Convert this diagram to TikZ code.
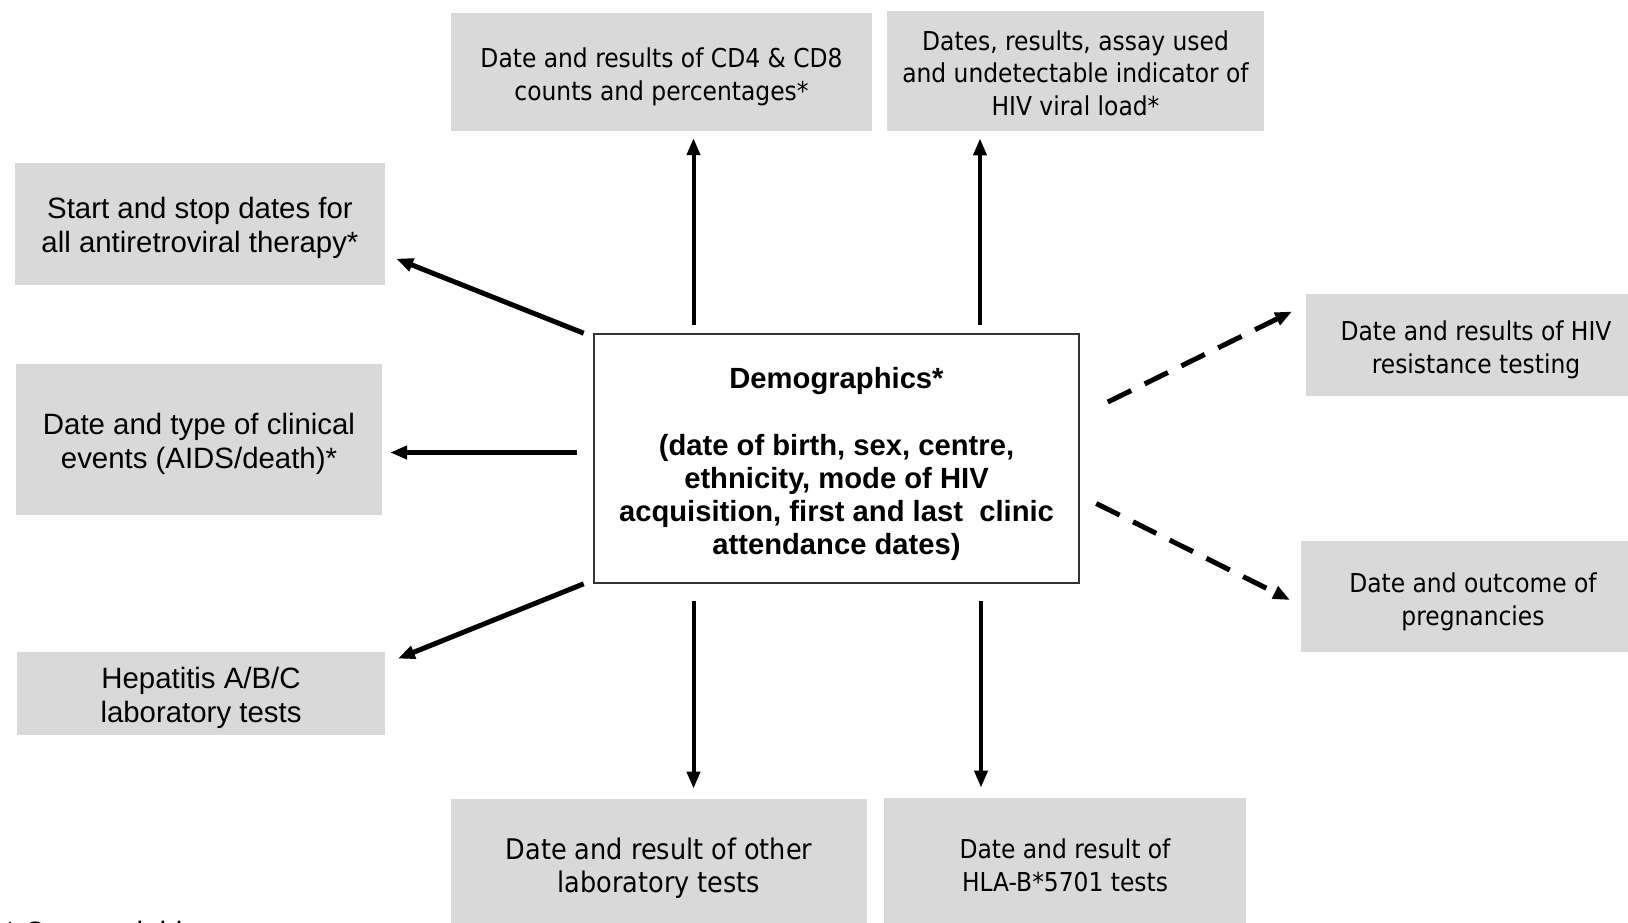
\documentclass[tikz,border=0pt]{standalone}
\usepackage{fontspec}
\setmainfont{Liberation Sans}
\newfontfamily\tahoma{DejaVu Sans Condensed}
\usetikzlibrary{arrows.meta,calc}
\definecolor{boxgray}{RGB}{217,217,217}
\newcommand{\topgap}{\rule{0pt}{15pt}}

\begin{document}
\begin{tikzpicture}[x=0.5pt,y=-0.5pt,
  graybox/.style={fill=boxgray,align=center,inner sep=0pt},
  tahomatxt/.style={font=\tahoma\fontsize{13}{16.4}\selectfont},
  arialtxt/.style={font=\fontsize{14.7}{17}\selectfont},
  demobox/.style={draw=black!80,line width=0.8pt,fill=white,align=center,
    font=\bfseries\fontsize{14.6}{16.6}\selectfont},
  arr/.style={-{Triangle[length=8.5pt,width=6.5pt]},line width=2pt},
  dasharr/.style={arr,line width=2.5pt,dash pattern=on 13pt off 7.5pt}
]
  \useasboundingbox (0,0) rectangle (1628,922);

  % Central record
  \node[demobox,minimum width=242.5pt,minimum height=124.5pt] (demo) at (836.5,458.5)
    {\rule{0pt}{16.5pt}Demographics*\\[16.6pt](date of birth, sex, centre,\\ethnicity, mode of HIV\\
     acquisition, first and last\ \ clinic\\attendance dates)};

  % Top row
  \node[graybox,tahomatxt,minimum width=210.5pt,minimum height=58.75pt] (cdcount) at (661.5,72)
    {\topgap Date and results of CD4 \& CD8\\counts and percentages*};
  \node[graybox,tahomatxt,font=\tahoma\fontsize{13}{16.2}\selectfont,
    minimum width=188.5pt,minimum height=60pt] (viral) at (1075.5,71)
    {\rule{0pt}{12pt}Dates, results, assay used\\and undetectable indicator of\\HIV viral load*};

  % Left column
  \node[graybox,arialtxt,minimum width=185.25pt,minimum height=61.25pt] (art) at (200,224)
    {\topgap Start and stop dates for\\all antiretroviral therapy*};
  \node[graybox,arialtxt,minimum width=182.75pt,minimum height=75.5pt] (clinical) at (199,439.5)
    {\topgap Date and type of clinical\\events (AIDS/death)*};
  \node[graybox,arialtxt,minimum width=184pt,minimum height=41.5pt] (hepatitis) at (201,693.5)
    {\topgap Hepatitis A/B/C\\laboratory tests};

  % Bottom row
  \node[graybox,tahomatxt,font=\tahoma\fontsize{14.2}{16.4}\selectfont,
    minimum width=208pt,minimum height=65pt] (otherlab) at (659,864)
    {\topgap Date and result of other\\laboratory tests};
  \node[graybox,tahomatxt,minimum width=181pt,minimum height=67pt] (hla) at (1065,865)
    {Date and result of\\HLA-B*5701 tests};

  % Right column
  \node[graybox,tahomatxt,minimum width=170pt,minimum height=51pt] (resist) at (1476,345)
    {\topgap Date and results of HIV\\resistance testing};
  \node[graybox,tahomatxt,minimum width=172pt,minimum height=55.5pt] (pregnancy) at (1473,596.5)
    {\topgap Date and outcome of\\pregnancies};

  % Footnote
  \node[anchor=base west,arialtxt,inner sep=0pt] (note) at (4,942) {* Core variables};

  % Upward arrows
  \draw[arr] ($(demo.north)+(-143,-8)$) -- ($(cdcount.south)+(32,7)$);
  \draw[arr] ($(demo.north)+(143.5,-8)$) -- ($(viral.south)+(-95.5,7)$);

  % Left arrows
  \draw[arr,line width=2.5pt] ($(demo.north west)+(-9.5,0)$) -- ($(art.south east)+(10.5,-27)$);
  \draw[arr,line width=2.5pt] ($(demo.west)+(-16,-6)$) -- ($(clinical.east)+(8,13)$);
  \draw[arr,line width=2.5pt] ($(demo.south west)+(-9.5,0)$) -- ($(hepatitis.north east)+(12.5,7)$);

  % Downward arrows
  \draw[arr] ($(demo.south)+(-143,17)$) -- ($(otherlab.north)+(34.5,-10)$);
  \draw[arr] ($(demo.south)+(144.5,17)$) -- ($(hla.north)+(-84,-10)$);

  % Dashed arrows, right side
  \draw[dasharr] ($(demo.east)+(28,-56.5)$) -- ($(resist.west)+(-13.5,-33.5)$);
  \draw[dasharr] ($(demo.east)+(16.5,45)$) -- ($(pregnancy.west)+(-10.5,3.5)$);
\end{tikzpicture}
\end{document}
